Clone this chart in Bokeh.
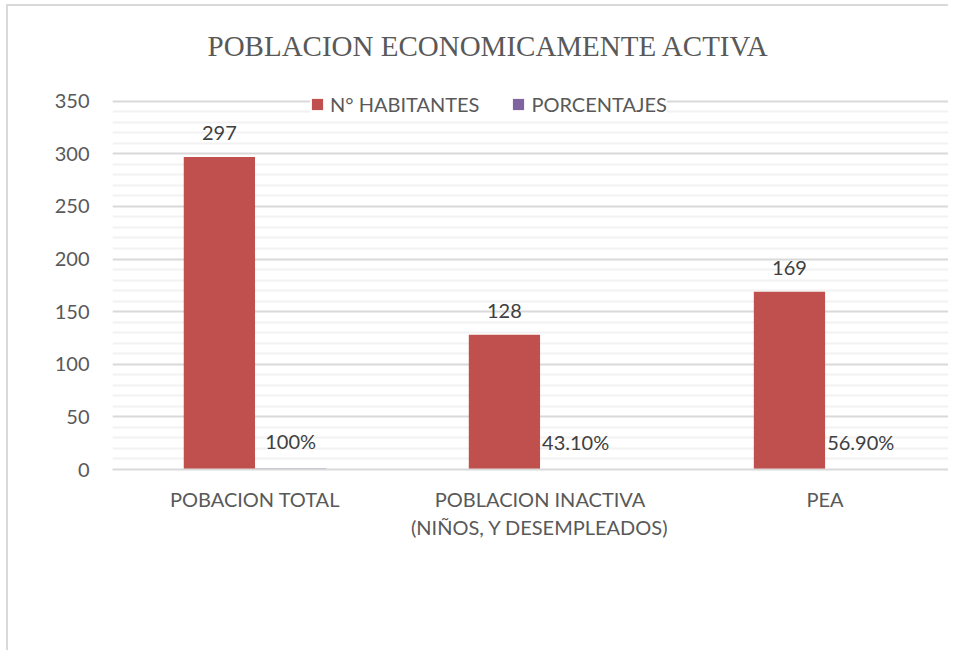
from bokeh.plotting import figure
from bokeh.models import (ColumnDataSource, Range1d, FixedTicker,
                          LabelSet, Legend, LegendItem)
from bokeh.core.properties import value
from bokeh.transform import dodge
from bokeh.embed import file_html
from bokeh.resources import INLINE

categories = ["POBACION TOTAL", "POBLACION INACTIVA\n(NIÑOS, Y DESEMPLEADOS)", "PEA"]
habitantes = [297, 128, 169]
porcentajes = [1.0, 0.431, 0.569]
hab_labels = ["297", "128", "169"]
pct_labels = ["100%", "43.10%", "56.90%"]
y_ticks = [0, 50, 100, 150, 200, 250, 300, 350]
y_minor = [v for v in range(10, 350, 10) if v % 50 != 0]

TXT = "#595959"
FONT = "Lato"
RED = "#C0504D"
PURPLE = "#8064A2"

idx = list(range(len(categories)))
src = ColumnDataSource(dict(
    x=idx,
    hab=habitantes,
    pct=porcentajes,
    hab_lbl=hab_labels,
    pct_lbl=pct_labels,
))

p = figure(width=948, height=650, output_backend="svg", toolbar_location=None,
           x_range=Range1d(-0.5, 2.433), y_range=Range1d(0, 362),
           min_border_left=112, min_border_right=0, min_border_top=87,
           min_border_bottom=181,
           title="POBLACION ECONOMICAMENTE ACTIVA")
p.outline_line_color = None
p.background_fill_color = "white"
p.border_fill_alpha = 0
p.styles = {
    "background-image": "linear-gradient(#d9d9d9,#d9d9d9), linear-gradient(#d9d9d9,#d9d9d9)",
    "background-size": "2px 100%, 100% 2px",
    "background-position": "6px 4px, 6px 4px",
    "background-repeat": "no-repeat",
}

p.title.align = "left"
p.title.offset = 95
p.title.text_font = "Liberation Serif"
p.title.text_font_size = "29px"
p.title.text_font_style = "normal"
p.title.text_color = TXT
p.title.standoff = 54

r1 = p.vbar(x=dodge("x", -0.125), top="hab", width=0.25, source=src,
            fill_color=RED, line_color=None)
r2 = p.vbar(x=dodge("x", 0.125), top="pct", width=0.25, source=src,
            fill_color=PURPLE, line_color=None)

p.add_layout(LabelSet(x=dodge("x", -0.125), y="hab", text="hab_lbl", source=src,
                      text_align="center", text_baseline="bottom", y_offset=17,
                      text_font=value(FONT), text_font_size="20px", text_color="#404040"))
p.add_layout(LabelSet(x=dodge("x", 0.125), y="pct", text="pct_lbl", source=src,
                      text_align="center", text_baseline="bottom", y_offset=15,
                      text_font=value(FONT), text_font_size="20px", text_color="#404040"))

# axes
p.yaxis.ticker = FixedTicker(ticks=y_ticks, minor_ticks=y_minor)
p.yaxis.axis_line_color = None
p.yaxis.major_tick_line_color = None
p.yaxis.minor_tick_line_color = None
p.yaxis.major_label_standoff = 17
p.yaxis.major_label_text_font = FONT
p.yaxis.major_label_text_font_size = "20px"
p.yaxis.major_label_text_color = TXT

p.xaxis.ticker = FixedTicker(ticks=idx)
p.xaxis.major_label_overrides = {i: c for i, c in zip(idx, categories)}
p.xaxis.axis_line_color = "#d9d9d9"
p.xaxis.axis_line_width = 2
p.xaxis.major_tick_line_color = None
p.xaxis.minor_tick_line_color = None
p.xaxis.major_label_standoff = 11
p.xaxis.major_label_text_font = FONT
p.xaxis.major_label_text_font_size = "20px"
p.xaxis.major_label_text_color = TXT

p.xgrid.grid_line_color = None
p.ygrid.grid_line_color = "#d9d9d9"
p.ygrid.grid_line_width = 2
p.ygrid.minor_grid_line_color = "#f2f2f2"
p.ygrid.minor_grid_line_width = 2

legend = Legend(items=[LegendItem(label="N° HABITANTES", renderers=[r1]),
                       LegendItem(label="PORCENTAJES", renderers=[r2])],
                orientation="horizontal", location=(198, 353),
                label_text_font=FONT, label_text_font_size="20px",
                label_text_color=TXT, glyph_width=14, glyph_height=14,
                label_standoff=6, spacing=32, padding=2, margin=0,
                border_line_color=None, background_fill_color="white",
                background_fill_alpha=1.0)
p.add_layout(legend)

open("out.html", "w").write(file_html(p, INLINE))
